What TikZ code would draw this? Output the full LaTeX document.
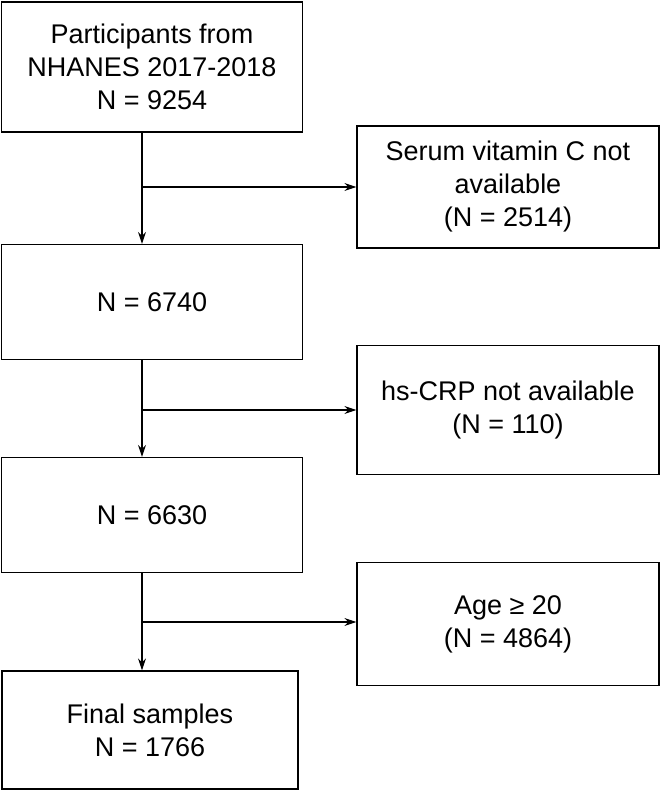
\documentclass[tikz,border=0pt]{standalone}
\usepackage{fontspec}
\setmainfont{Liberation Sans}
\usetikzlibrary{arrows.meta}
\begin{document}
\begin{tikzpicture}[x=1pt,y=-1pt,
  box/.style={draw,line width=1.2pt,align=center,font=\fontsize{27}{33}\selectfont,inner sep=0pt},
  arr/.style={line width=1.2pt,-{Stealth[length=12pt,width=8pt]}}]
\useasboundingbox (0,0) rectangle (661,790);
\node[box,minimum width=301pt,minimum height=130pt] (b1) at (152,67) {Participants from\\NHANES 2017-2018\\N = 9254};
\node[box,minimum width=301pt,minimum height=115pt] (b2) at (152,302) {N = 6740};
\node[box,minimum width=301pt,minimum height=115pt] (b3) at (152,515) {N = 6630};
\node[box,minimum width=296pt,minimum height=118pt] (b4) at (150,730) {Final samples\\N = 1766};
\node[box,minimum width=302pt,minimum height=122pt] (ra) at (508,187) {Serum vitamin C not\\available\\(N = 2514)};
\node[box,minimum width=302pt,minimum height=129pt] (rb) at (508,410) {hs-CRP not available\\(N = 110)};
\node[box,minimum width=302pt,minimum height=123pt] (rc) at (508,624) {Age ≥ 20\\(N = 4864)};
\coordinate (ja) at (142,187);
\coordinate (jb) at (142,410);
\coordinate (jc) at (142,622);
\draw[arr] (b1.south -| ja) -- (b2.north -| ja);
\draw[arr] (b2.south -| jb) -- (b3.north -| jb);
\draw[arr] (b3.south -| jc) -- (b4.north -| jc);
\draw[arr] (ja) -- (ra.west);
\draw[arr] (jb) -- (rb.west);
\draw[arr] (jc) -- (rc.west |- jc);
\end{tikzpicture}
\end{document}
